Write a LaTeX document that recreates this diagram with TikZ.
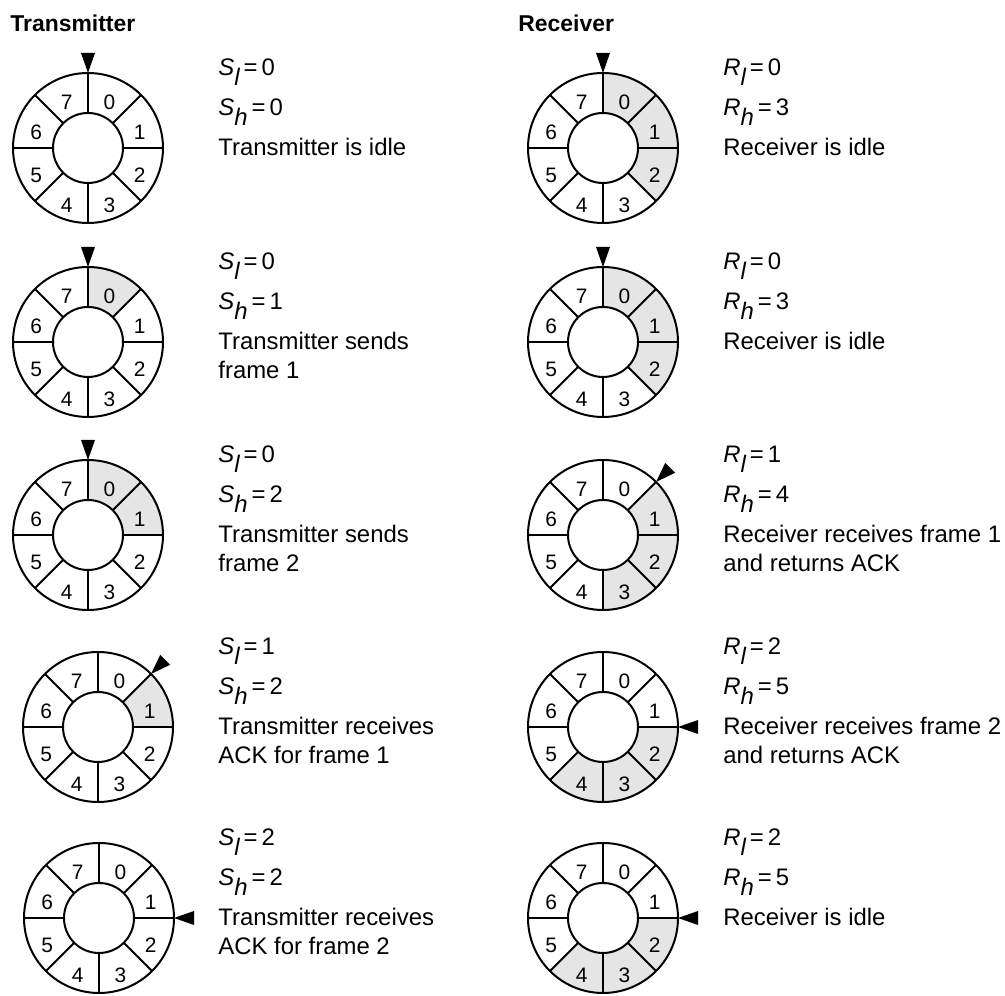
\documentclass[tikz,border=0pt]{standalone}
\usepackage{fontspec}
\setmainfont{Liberation Sans}
\newcommand{\lowsub}[1]{\raisebox{-0.38em}{\itshape #1}}
\newcommand{\slotsector}[2]{%
  \fill[slotshade] ([shift={(90-45*#2:75)}]#1) arc[start angle=90-45*#2,end angle=45-45*#2,radius=75]
    -- ([shift={(45-45*#2:35)}]#1) arc[start angle=45-45*#2,end angle=90-45*#2,radius=35] -- cycle;}
\newcommand{\slotring}[2]{%
  \draw[ringline] (#1) circle[radius=75] (#1) circle[radius=35];
  \foreach \a in {0,45,...,315}
    \draw[ringline] ([shift={(\a:35)}]#1) -- ([shift={(\a:75)}]#1);
  \foreach \k in {0,...,7}
    \node[slotnum] (#1-\k) at ([shift={(67.5-45*\k:56)}]#1) {\k};
  \fill[shift={(#1)},rotate=#2] (75,0) -- (95,7) -- (95,-7) -- cycle;}
\begin{document}
\begin{tikzpicture}[x=0.5bp,y=0.5bp,
  ringline/.style={line width=1bp},
  slotshade/.style={fill=gray!20},
  slotnum/.style={inner sep=0pt,yshift=-3bp,font=\fontsize{10.5}{12}\selectfont},
  txt/.style={anchor=base west,inner sep=0pt,font=\fontsize{12}{14}\selectfont},
  head/.style={txt,font=\bfseries\fontsize{11.5}{13}\selectfont}]
\useasboundingbox (0,0) rectangle (1005,996);
%%
\node[head] (txhead) at (10,964) {Transmitter};
\node[head] (rxhead) at (518,964) {Receiver};
%% transmitter
\coordinate (tx1) at (88,848);
\slotring{tx1}{90}
\node[txt] (tx1-l) at (218,920) {\textit{S}\lowsub{l}\,=\,0};
\node[txt] (tx1-h) at (218,880) {\textit{S}\lowsub{h}\,=\,0};
\node[txt] (tx1-d) at (218,840) {Transmitter is idle};
%
\coordinate (tx2) at (88,654);
\foreach \k in {0} {\slotsector{tx2}{\k}}
\slotring{tx2}{90}
\node[txt] (tx2-l) at (218,726) {\textit{S}\lowsub{l}\,=\,0};
\node[txt] (tx2-h) at (218,686) {\textit{S}\lowsub{h}\,=\,1};
\node[txt] (tx2-d) at (218,646) {Transmitter sends};
\node[txt] (tx2-e) at (218,617) {frame 1};
%
\coordinate (tx3) at (88,461);
\foreach \k in {0,1} {\slotsector{tx3}{\k}}
\slotring{tx3}{90}
\node[txt] (tx3-l) at (218,533) {\textit{S}\lowsub{l}\,=\,0};
\node[txt] (tx3-h) at (218,493) {\textit{S}\lowsub{h}\,=\,2};
\node[txt] (tx3-d) at (218,453) {Transmitter sends};
\node[txt] (tx3-e) at (218,424) {frame 2};
%
\coordinate (tx4) at (98,269);
\foreach \k in {1} {\slotsector{tx4}{\k}}
\slotring{tx4}{45}
\node[txt] (tx4-l) at (218,341) {\textit{S}\lowsub{l}\,=\,1};
\node[txt] (tx4-h) at (218,301) {\textit{S}\lowsub{h}\,=\,2};
\node[txt] (tx4-d) at (218,261) {Transmitter receives};
\node[txt] (tx4-e) at (218,232) {ACK for frame 1};
%
\coordinate (tx5) at (99,78);
\slotring{tx5}{0}
\node[txt] (tx5-l) at (218,150) {\textit{S}\lowsub{l}\,=\,2};
\node[txt] (tx5-h) at (218,110) {\textit{S}\lowsub{h}\,=\,2};
\node[txt] (tx5-d) at (218,70) {Transmitter receives};
\node[txt] (tx5-e) at (218,41) {ACK for frame 2};
%% receiver
\coordinate (rx1) at (603,848);
\foreach \k in {0,1,2} {\slotsector{rx1}{\k}}
\slotring{rx1}{90}
\node[txt] (rx1-l) at (723,920) {\textit{R}\lowsub{l}\,=\,0};
\node[txt] (rx1-h) at (723,880) {\textit{R}\lowsub{h}\,=\,3};
\node[txt] (rx1-d) at (723,840) {Receiver is idle};
%
\coordinate (rx2) at (603,654);
\foreach \k in {0,1,2} {\slotsector{rx2}{\k}}
\slotring{rx2}{90}
\node[txt] (rx2-l) at (723,726) {\textit{R}\lowsub{l}\,=\,0};
\node[txt] (rx2-h) at (723,686) {\textit{R}\lowsub{h}\,=\,3};
\node[txt] (rx2-d) at (723,646) {Receiver is idle};
%
\coordinate (rx3) at (603,461);
\foreach \k in {1,2,3} {\slotsector{rx3}{\k}}
\slotring{rx3}{45}
\node[txt] (rx3-l) at (723,533) {\textit{R}\lowsub{l}\,=\,1};
\node[txt] (rx3-h) at (723,493) {\textit{R}\lowsub{h}\,=\,4};
\node[txt] (rx3-d) at (723,453) {Receiver receives frame 1};
\node[txt] (rx3-e) at (723,424) {and returns ACK};
%
\coordinate (rx4) at (603,269);
\foreach \k in {2,3,4} {\slotsector{rx4}{\k}}
\slotring{rx4}{0}
\node[txt] (rx4-l) at (723,341) {\textit{R}\lowsub{l}\,=\,2};
\node[txt] (rx4-h) at (723,301) {\textit{R}\lowsub{h}\,=\,5};
\node[txt] (rx4-d) at (723,261) {Receiver receives frame 2};
\node[txt] (rx4-e) at (723,232) {and returns ACK};
%
\coordinate (rx5) at (603,78);
\foreach \k in {2,3,4} {\slotsector{rx5}{\k}}
\slotring{rx5}{0}
\node[txt] (rx5-l) at (723,150) {\textit{R}\lowsub{l}\,=\,2};
\node[txt] (rx5-h) at (723,110) {\textit{R}\lowsub{h}\,=\,5};
\node[txt] (rx5-d) at (723,70) {Receiver is idle};
%
\end{tikzpicture}
\end{document}
